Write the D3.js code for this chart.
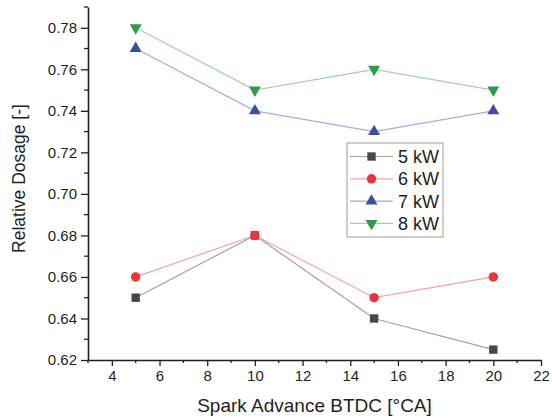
<!DOCTYPE html>
<html>
<head>
<meta charset="utf-8">
<script src="https://cdn.jsdelivr.net/npm/d3@7"></script>
<style>
  body { margin: 0; background: #fff; }
  text { font-family: "Liberation Sans", Arial, sans-serif; fill: #231f20; }
</style>
</head>
<body>
<div id="chart"></div>
<script>
(function () {

// data
const advance = [5, 10, 15, 20];
const kw5 = [0.65, 0.68, 0.64, 0.625];
const kw6 = [0.66, 0.68, 0.65, 0.66];
const kw7 = [0.77, 0.74, 0.73, 0.74];
const kw8 = [0.78, 0.75, 0.76, 0.75];
const seriesNames = ["5 kW", "6 kW", "7 kW", "8 kW"];
const xTicks = [4, 6, 8, 10, 12, 14, 16, 18, 20, 22];
const yTicks = [0.62, 0.64, 0.66, 0.68, 0.70, 0.72, 0.74, 0.76, 0.78];

const W = 552, H = 418;
const margin = {top: 7, right: 11, bottom: 58, left: 88};
const width = W - margin.left - margin.right,
      height = H - margin.top - margin.bottom;

const svg = d3.select("#chart").append("svg")
    .attr("width", W)
    .attr("height", H);

const g = svg.append("g")
    .attr("transform", "translate(" + margin.left + "," + margin.top + ")");

const x = d3.scaleLinear().domain([3, 22]).range([0, width]);
const y = d3.scaleLinear().domain([0.62, 0.79]).range([height, 0]);

// styles per series
const styles = [
  {values: kw5, marker: "#4b4643", line: "#a9a09b", shape: d3.symbolSquare, size: 70, rot: 0},
  {values: kw6, marker: "#e8373b", line: "#f4a3a3", shape: d3.symbolCircle, size: 70, rot: 0},
  {values: kw7, marker: "#3c4f9e", line: "#9eaee0", shape: d3.symbolTriangle, size: 62, rot: 0},
  {values: kw8, marker: "#2f9a4b", line: "#9dd5a2", shape: d3.symbolTriangle, size: 62, rot: 180}
];

// minor ticks first
const xMinor = d3.range(3, 22, 1).filter(v => v % 2 === 1);
const yMinor = d3.range(0.63, 0.79, 0.02);

g.selectAll(".xminor").data(xMinor).join("line")
  .attr("x1", d => x(d)).attr("x2", d => x(d))
  .attr("y1", height).attr("y2", height + 3)
  .attr("stroke", "#231f20").attr("stroke-width", 1.3);

g.selectAll(".yminor").data(yMinor).join("line")
  .attr("y1", d => y(d)).attr("y2", d => y(d))
  .attr("x1", 0).attr("x2", -4)
  .attr("stroke", "#231f20").attr("stroke-width", 1.3);

// axes
const xAxis = g.append("g")
  .attr("transform", "translate(0," + height + ")")
  .call(d3.axisBottom(x).tickValues(xTicks).tickSize(6).tickPadding(4).tickSizeOuter(0));

const yAxis = g.append("g")
  .call(d3.axisLeft(y).tickValues(yTicks).tickFormat(d3.format(".2f")).tickSize(7).tickPadding(4).tickSizeOuter(0));

[xAxis, yAxis].forEach(a => {
  a.select(".domain").attr("stroke", "#231f20").attr("stroke-width", 1.6);
  a.selectAll(".tick line").attr("stroke", "#231f20").attr("stroke-width", 1.3);
  a.selectAll(".tick text").attr("font-size", 15).attr("fill", "#231f20")
    .style("font-family", "'Liberation Sans', Arial, sans-serif");
});

// axis titles
svg.append("text")
  .attr("x", margin.left + x(12.5))
  .attr("y", 412)
  .attr("text-anchor", "middle")
  .attr("font-size", 19)
  .text("Spark Advance BTDC [°CA]");

svg.append("text")
  .attr("transform", "translate(25,178.5) rotate(-90)")
  .attr("text-anchor", "middle")
  .attr("font-size", 17.5)
  .text("Relative Dosage [-]");

// lines + markers
const line = d3.line().x((d, i) => x(advance[i])).y(d => y(d));

styles.forEach(s => {
  g.append("path")
    .datum(s.values)
    .attr("d", line)
    .attr("fill", "none")
    .attr("stroke", s.line)
    .attr("stroke-width", 1.2);
});

styles.forEach(s => {
  g.selectAll(null).data(s.values).join("path")
    .attr("d", d3.symbol().type(s.shape).size(s.size))
    .attr("transform", (d, i) => "translate(" + x(advance[i]) + "," + y(d) + ") rotate(" + s.rot + ")")
    .attr("fill", s.marker);
});

// legend
const lg = svg.append("g").attr("transform", "translate(347,143)");
lg.append("rect")
  .attr("width", 96).attr("height", 94)
  .attr("fill", "#fff")
  .attr("stroke", "#a59c97").attr("stroke-width", 1);

styles.forEach((s, i) => {
  const yy = 13.5 + i * 22.3;
  lg.append("line")
    .attr("x1", 3).attr("x2", 46)
    .attr("y1", yy).attr("y2", yy)
    .attr("stroke", s.line).attr("stroke-width", 1.2);
  lg.append("path")
    .attr("d", d3.symbol().type(s.shape).size(s.size))
    .attr("transform", "translate(24.5," + yy + ") rotate(" + s.rot + ")")
    .attr("fill", s.marker);
  lg.append("text")
    .attr("x", 51).attr("y", yy + 6.5)
    .attr("font-size", 18)
    .text(seriesNames[i]);
});

})()
</script>
</body>
</html>
